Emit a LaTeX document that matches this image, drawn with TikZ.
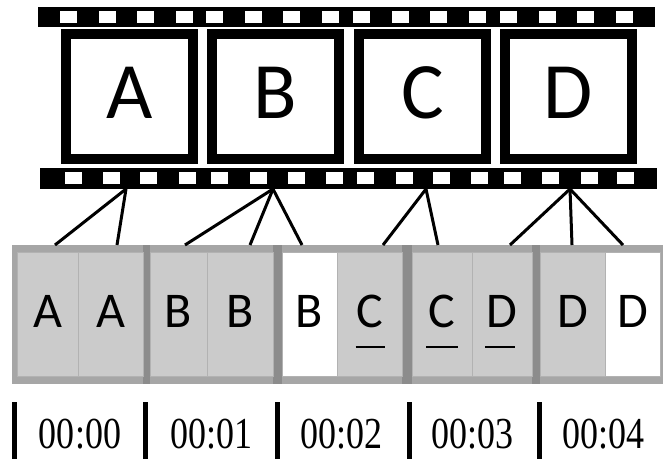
\documentclass[tikz,border=0pt]{standalone}
\usepackage{fontspec}
\usepackage{graphicx}
\setmainfont{Liberation Serif}
\newfontfamily\letfont{Carlito}
\definecolor{bandgray}{HTML}{A6A6A6}
\definecolor{cellgray}{HTML}{CBCBCB}
\definecolor{sepgray}{HTML}{8C8C8C}
\definecolor{divgray}{HTML}{B2B2B2}
\begin{document}
\begin{tikzpicture}[x=1pt,y=-1pt,
  filmframe/.style={draw=black, line width=10pt, fill=white, minimum width=127pt,
    minimum height=125pt, inner sep=0pt, text depth=8pt,
    font=\letfont\fontsize{80}{80}\selectfont},
  cellbox/.style={inner sep=0pt, minimum height=124pt, outer xsep=0pt, outer ysep=7pt,
    text depth=6pt, font=\letfont\fontsize{50}{50}\selectfont},
  link/.style={draw=black, line width=3pt},
  uline/.style={draw=black, line width=1.6pt},
  stamp/.style={inner sep=0pt, font=\fontsize{36}{36}\selectfont}]
\useasboundingbox (0,0) rectangle (663,462);
% film strip sprocket bands
\fill[black] (38,7) rectangle (655,27);
\fill[black] (40,168) rectangle (657,189);
\foreach \h in {68.5,107.2,145.9,184.6,214.5,253.2,291.9,330.6,361.5,400.2,438.9,477.6,508.5,547.2,585.9,624.6}
  \fill[white] (\h-8.5,11) rectangle (\h+8.5,23);
\foreach \h in {73,111,148,187,219,258,296,334,365,404,441,479,512,550,589,625}
  \fill[white] (\h-8.5,172) rectangle (\h+8.5,184);
% frames
\node[filmframe] (fA) at (129.5,96.5) {A};
\node[filmframe] (fB) at (275.5,96.5) {B};
\node[filmframe] (fC) at (422.5,96.5) {C};
\node[filmframe] (fD) at (568.5,96.5) {D};
% tops of connectors
\coordinate (tA) at (126,189);
\coordinate (tB) at (273,189);
\coordinate (tC) at (426,189);
\coordinate (tD) at (570,189);
% cell band
\fill[bandgray] (12,245) rectangle (663,384);
\foreach \a/\b in {143/150,273/282,402/412,532/540}
  \fill[sepgray] (\a,245) rectangle (\b,384);
\foreach \n/\cx/\w/\f/\t in {1/47.5/61/cellgray/A, 2/110.5/65/cellgray/A,
    3/178.5/57/cellgray/B, 4/240/66/cellgray/B, 5/309.5/55/white/B,
    6/369.5/65/cellgray/C, 7/442/60/cellgray/C, 8/502/60/cellgray/D,
    9/572.5/65/cellgray/D, 10/632.5/55/white/D}
  \node[cellbox, fill=\f, draw=divgray, line width=0.8pt, minimum width=\w*1pt] (c\n) at (\cx,314) {\t};
% underlines
\draw[uline] ([xshift=-14pt,yshift=-33pt]c6.center) -- ++(29,0);
\draw[uline] ([xshift=-16pt,yshift=-33pt]c7.center) -- ++(32,0);
\draw[uline] ([xshift=-17pt,yshift=-33pt]c8.center) -- ++(30,0);
% connectors
\draw[link] (tA) -- ([xshift=7.5pt]c1.north);
\draw[link] (tA) -- ([xshift=6.5pt]c2.north);
\draw[link] (tB) -- ([xshift=6.5pt]c3.north);
\draw[link] (tB) -- ([xshift=10pt]c4.north);
\draw[link] (tB) -- ([xshift=-7.5pt]c5.north);
\draw[link] (tC) -- ([xshift=13.5pt]c6.north);
\draw[link] (tC) -- ([xshift=-4pt]c7.north);
\draw[link] (tD) -- ([xshift=8pt]c8.north);
\draw[link] (tD) -- ([xshift=-0.5pt]c9.north);
\draw[link] (tD) -- ([xshift=-9.5pt]c10.north);
% time bars
\foreach \bx in {14.5,145.5,277.5,409.5,539.5}
  \fill[black] (\bx-2.5,402) rectangle (\bx+2.5,459);
% time stamps
\node[stamp] (s0) at (80,434) {\scalebox{1}[1.23]{00:00}};
\node[stamp] (s1) at (211,434) {\scalebox{1}[1.23]{00:01}};
\node[stamp] (s2) at (341,434) {\scalebox{1}[1.23]{00:02}};
\node[stamp] (s3) at (472,434) {\scalebox{1}[1.23]{00:03}};
\node[stamp] (s4) at (603,434) {\scalebox{1}[1.23]{00:04}};
\end{tikzpicture}
\end{document}
